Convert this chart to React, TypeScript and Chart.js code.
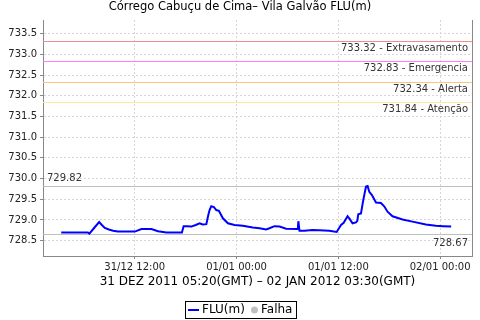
import { useEffect, useRef } from "react";
import { Chart, registerables } from "chart.js";

Chart.register(...registerables);

const FONT = "'DejaVu Sans', sans-serif";
const TITLE = "Córrego Cabuçu de Cima– Vila Galvão FLU(m)";
const X_TITLE = "31 DEZ 2011 05:20(GMT) – 02 JAN 2012 03:30(GMT)";

// hours counted from 31/12 00:00 (local axis time)
const hours = [
  3.33, 4.94, 6.47, 6.65, 7.18, 7.8, 8.12, 8.47, 8.94, 9.45, 10.0, 11.06, 12.0,
  12.79, 13.96, 14.74, 15.73, 16.82, 17.56, 17.76, 18.08, 18.67, 19.18, 19.65,
  20.0, 20.44, 20.65, 20.82, 21.02, 21.33, 21.61, 21.92, 22.39, 22.98, 23.76,
  24.74, 25.92, 26.71, 27.49, 27.88, 28.47, 29.06, 29.85, 31.02, 31.22, 31.29,
  31.42, 32.0, 32.94, 33.76, 34.94, 35.8, 36.32, 36.63, 37.09, 37.29, 37.68,
  38.08, 38.24, 38.35, 38.67, 38.94, 39.26, 39.45, 39.65, 39.96, 40.44, 41.02,
  41.41, 41.8, 42.39, 43.57, 44.74, 46.32, 47.49, 48.35, 49.3,
];
const levels = [
  728.7, 728.7, 728.7, 728.67, 728.8, 728.95, 728.88, 728.81, 728.77, 728.74,
  728.72, 728.72, 728.72, 728.78, 728.78, 728.73, 728.7, 728.7, 728.7, 728.85,
  728.85, 728.84, 728.88, 728.92, 728.89, 728.9, 729.1, 729.24, 729.33, 729.31,
  729.24, 729.22, 729.04, 728.92, 728.88, 728.86, 728.82, 728.8, 728.77, 728.8,
  728.85, 728.84, 728.79, 728.78, 728.78, 728.97, 728.74, 728.74, 728.76,
  728.75, 728.74, 728.71, 728.88, 728.93, 729.09, 729.04, 728.92, 728.94,
  728.98, 729.14, 729.16, 729.48, 729.81, 729.82, 729.68, 729.6, 729.42,
  729.41, 729.33, 729.2, 729.09, 729.01, 728.96, 728.89, 728.86, 728.85, 728.84,
];

const xMin = 1.18;
const xMax = 51.76;
const yMin = 728.13;
const yMax = 733.83;
const xTickHours = [12, 24, 36, 48];
const xTickLabels = ["31/12 12:00", "01/01 00:00", "01/01 12:00", "02/01 00:00"];
const yTicks = [728.5, 729.0, 729.5, 730.0, 730.5, 731.0, 731.5, 732.0, 732.5, 733.0, 733.5];

const thresholdValues = [733.32, 732.83, 732.34, 731.84];
const thresholdNames = ["Extravasamento", "Emergencia", "Alerta", "Atenção"];
const maxLevel = 729.82;
const minLevel = 728.67;

const THRESHOLD_COLORS = ["rgb(240,140,140)", "rgb(255,124,255)", "rgb(255,196,124)", "rgb(253,234,160)"];

const decor = {
  id: "decor",
  beforeDatasetsDraw(chart: any) {
    const { ctx, chartArea: a, scales } = chart;
    const y = scales.y;
    ctx.save();
    ctx.setLineDash([]);
    ctx.lineWidth = 1;
    ctx.strokeStyle = "#888888";
    ctx.beginPath();
    ctx.moveTo(a.right + 0.5, a.top);
    ctx.lineTo(a.right + 0.5, a.bottom);
    ctx.stroke();

    ctx.font = `10px ${FONT}`;
    ctx.textBaseline = "middle";
    thresholdValues.forEach((v, i) => {
      const py = Math.round(y.getPixelForValue(v)) + 0.5;
      ctx.save();
      ctx.lineWidth = 1;
      ctx.strokeStyle = THRESHOLD_COLORS[i];
      ctx.beginPath();
      ctx.moveTo(a.left, py);
      ctx.lineTo(a.right, py);
      ctx.stroke();
      ctx.restore();
      ctx.fillStyle = "#333333";
      ctx.textAlign = "right";
      ctx.fillText(`${v.toFixed(2)} - ${thresholdNames[i]}`, a.right - 4, py + 6.5);
    });

    ctx.strokeStyle = "#bfbfbf";
    const pMax = Math.round(y.getPixelForValue(maxLevel)) + 0.5;
    const pMin = Math.round(y.getPixelForValue(minLevel)) + 0.5;
    [pMax, pMin].forEach((py) => {
      ctx.beginPath();
      ctx.moveTo(a.left, py);
      ctx.lineTo(a.right, py);
      ctx.stroke();
    });
    ctx.fillStyle = "#333333";
    ctx.textAlign = "left";
    ctx.fillText(maxLevel.toFixed(2), a.left + 4, pMax - 8);
    ctx.textAlign = "right";
    ctx.fillText(minLevel.toFixed(2), a.right - 4, pMin + 8.5);
    ctx.restore();
  },
  afterDraw(chart: any) {
    const { ctx, chartArea: a } = chart;
    ctx.save();
    ctx.fillStyle = "#000000";
    ctx.textBaseline = "middle";
    ctx.textAlign = "center";
    ctx.font = `11.5px ${FONT}`;
    ctx.fillText(TITLE, 240, 7.5);
    ctx.font = `12px ${FONT}`;
    ctx.fillText(X_TITLE, (a.left + a.right) / 2, 282);

    // legend
    ctx.strokeStyle = "#000000";
    ctx.lineWidth = 1;
    ctx.strokeRect(185.5, 301.5, 111, 17);
    ctx.strokeStyle = "#0000ff";
    ctx.lineWidth = 2;
    ctx.beginPath();
    ctx.moveTo(188, 310);
    ctx.lineTo(199, 310);
    ctx.stroke();
    ctx.textAlign = "left";
    ctx.fillText(chart.data.datasets[0].label, 202, 310);
    ctx.fillStyle = "#c0c0c0";
    ctx.beginPath();
    ctx.arc(254.5, 310, 3.5, 0, Math.PI * 2);
    ctx.fill();
    ctx.fillStyle = "#000000";
    ctx.fillText(chart.data.datasets[1].label, 261, 310);
    ctx.restore();
  },
};

export default function App() {
  const ref = useRef<HTMLCanvasElement | null>(null);
  useEffect(() => {
    document.body.style.margin = "0";
    const canvas = ref.current;
    if (!canvas) return;
    const chart = new Chart(canvas, {
      type: "line",
      data: {
        datasets: [
          {
            label: "FLU(m)",
            data: hours.map((h, i) => ({ x: h, y: levels[i] })),
            borderColor: "#0000ff",
            backgroundColor: "#0000ff",
            borderWidth: 2,
            pointRadius: 0,
            tension: 0,
          },
          {
            label: "Falha",
            data: [],
            borderColor: "#c0c0c0",
            backgroundColor: "#c0c0c0",
            pointRadius: 0,
          },
        ],
      },
      options: {
        animation: false,
        responsive: false,
        layout: { padding: { top: 20, right: 8, bottom: 0, left: 0 } },
        plugins: {
          legend: { display: false },
          title: { display: false },
          tooltip: { enabled: false },
        },
        scales: {
          x: {
            type: "linear",
            min: xMin,
            max: xMax,
            afterFit: (s: any) => {
              s.height = 64;
            },
            afterBuildTicks: (s: any) => {
              s.ticks = xTickHours.map((v) => ({ value: v }));
            },
            ticks: {
              autoSkip: false,
              maxRotation: 0,
              padding: 2,
              color: "#222222",
              font: { family: FONT, size: 10 },
              callback: (_v: any, i: number) => xTickLabels[i],
            },
            grid: {
              color: "#d6d6d6",
              tickColor: "#888888",
              tickLength: 3,
            },
            border: { color: "#888888", dash: [2, 2] },
          },
          y: {
            type: "linear",
            min: yMin,
            max: yMax,
            afterFit: (s: any) => {
              s.width = 43;
            },
            afterBuildTicks: (s: any) => {
              s.ticks = yTicks.map((v) => ({ value: v }));
            },
            ticks: {
              padding: 3,
              color: "#222222",
              font: { family: FONT, size: 10 },
              callback: (v: any) => Number(v).toFixed(1),
            },
            grid: {
              color: "#d6d6d6",
              tickColor: "#888888",
              tickLength: 3,
            },
            border: { color: "#888888", dash: [2, 2] },
          },
        },
      },
      plugins: [decor],
    });
    return () => chart.destroy();
  }, []);
  return (
    <div style={{ position: "absolute", left: 0, top: 0 }}>
      <canvas ref={ref} width={480} height={320} />
    </div>
  );
}
